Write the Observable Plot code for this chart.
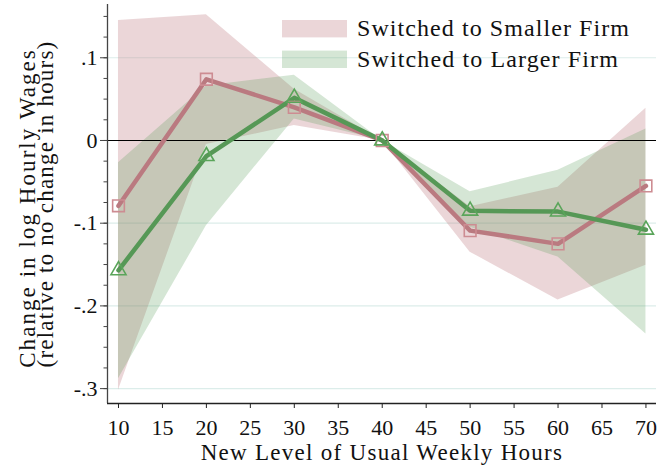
<!DOCTYPE html>
<html>
<head>
<meta charset="utf-8">
<script src="https://cdn.jsdelivr.net/npm/d3@7"></script>
<script src="https://cdn.jsdelivr.net/npm/@observablehq/plot@0.6"></script>
<style>
  html, body { margin: 0; padding: 0; background: #fff; }
  #wrap { position: relative; width: 658px; height: 465px; }
  #wrap svg.overlay { position: absolute; left: 0; top: 0; pointer-events: none; }
</style>
</head>
<body>
<div id="wrap"></div>
<script>
// ---- data ----
const hours = [10, 20, 30, 40, 50, 60, 70];
const smaller   = [-0.079, 0.074, 0.040, 0, -0.109, -0.125, -0.055];
const smallerLo = [-0.302, -0.005, 0.018, 0, -0.135, -0.193, -0.151];
const smallerHi = [0.145, 0.152, 0.062, 0, -0.080, -0.0565, 0.039];
const larger    = [-0.157, -0.019, 0.0515, 0, -0.085, -0.086, -0.108];
const largerLo  = [-0.288, -0.103, 0.026, 0, -0.105, -0.141, -0.234];
const largerHi  = [-0.027, 0.066, 0.079, 0, -0.062, -0.036, 0.014];

const seriesNames = ["Switched to Smaller Firm", "Switched to Larger Firm"];
const xTicks = [10, 15, 20, 25, 30, 35, 40, 45, 50, 55, 60, 65, 70];
const yTicks = [0.1, 0, -0.1, -0.2, -0.3];
const yTickLabels = [".1", "0", "-.1", "-.2", "-.3"];
const yMinorTicks = d3.range(-12, 7).map(k => k * 0.025);
const gridTicks = [0.1, -0.1, -0.2, -0.3];
const xDomain = [8.75, 71.2];
const yDomain = [-0.318, 0.1644];
const xLabel = "New Level of Usual Weekly Hours";
const yLabel1 = "Change in log Hourly Wages";
const yLabel2 = "(relative to no change in hours)";

// ---- styles ----
const pinkBase = "rgb(190,120,125)";
const greenBase = "rgb(80,150,80)";
const pinkLine = "rgb(186,122,128)";
const greenLine = "rgb(86,152,86)";
const pinkMark = "rgb(205,140,146)";
const greenMark = "rgb(90,165,90)";
const gridColor = "#dcedea";
const fontStack = "'Liberation Serif', serif";

// letter spacing so that a string at a given size spans a target width
const ctx = document.createElement("canvas").getContext("2d");
function spacingFor(str, size, target) {
  ctx.font = `${size}px ${fontStack}`;
  const w = ctx.measureText(str).width;
  return Math.max(0, (target - w) / str.length);
}

const rows = hours.map((h, i) => ({
  h, s: smaller[i], sLo: smallerLo[i], sHi: smallerHi[i],
  l: larger[i], lLo: largerLo[i], lHi: largerHi[i]
}));
const labelMap = new Map(yTicks.map((t, i) => [t, yTickLabels[i]]));

const chart = Plot.plot({
  width: 658,
  height: 465,
  marginLeft: 107,
  marginRight: 2,
  marginTop: 4,
  marginBottom: 62,
  style: { fontFamily: fontStack, background: "white", color: "#111", overflow: "visible" },
  x: { domain: xDomain, axis: null },
  y: { domain: yDomain, axis: null },
  marks: [
    Plot.ruleY(gridTicks, { stroke: gridColor, strokeWidth: 1.2 }),
    Plot.areaY(rows, { x: "h", y1: "sLo", y2: "sHi", fill: pinkBase, fillOpacity: 0.3 }),
    Plot.areaY(rows, { x: "h", y1: "lLo", y2: "lHi", fill: greenBase, fillOpacity: 0.24 }),
    Plot.ruleY([0], { stroke: "#000", strokeWidth: 1.2 }),
    Plot.ruleX([xDomain[0]], { stroke: "#444", strokeWidth: 1.3 }),
    Plot.ruleY([yDomain[0]], { stroke: "#222", strokeWidth: 1.3 }),
    Plot.axisY({ ticks: yMinorTicks, tickSize: 3.5, tickFormat: () => "", stroke: "#444", label: null }),
    Plot.axisY({ ticks: yTicks, tickSize: 7, tickPadding: 3, tickFormat: d => labelMap.get(d), fontSize: 22, stroke: "#444", label: null }),
    Plot.axisX({ ticks: xTicks, tickSize: 5, tickPadding: 11, fontSize: 22, stroke: "#222", label: null }),
    Plot.line(rows, { x: "h", y: "s", stroke: pinkLine, strokeWidth: 4.5 }),
    Plot.line(rows, { x: "h", y: "l", stroke: greenLine, strokeWidth: 4.5 }),
    Plot.dot(rows, { x: "h", y: "s", symbol: "square", r: 6.6, stroke: pinkMark, strokeWidth: 1.6, fill: "none" }),
    Plot.dot(rows, { x: "h", y: "l", symbol: "triangle", r: 5.6, stroke: greenMark, strokeWidth: 1.6, fill: "none" })
  ]
});

const wrap = document.getElementById("wrap");
wrap.appendChild(chart);

// titles and legend overlay
const ns = "http://www.w3.org/2000/svg";
const ov = document.createElementNS(ns, "svg");
ov.setAttribute("class", "overlay");
ov.setAttribute("width", 658);
ov.setAttribute("height", 465);

function addText(str, x, y, size, target, opts = {}) {
  const t = document.createElementNS(ns, "text");
  t.setAttribute("x", 0); t.setAttribute("y", 0);
  t.setAttribute("font-family", fontStack);
  t.setAttribute("font-size", size);
  t.setAttribute("fill", "#111");
  t.setAttribute("text-anchor", opts.anchor || "start");
  t.setAttribute("transform", `translate(${x},${y})` + (opts.rotate ? ` rotate(${opts.rotate})` : ""));
  t.style.letterSpacing = spacingFor(str, size, target) + "px";
  t.textContent = str;
  ov.appendChild(t);
}

// x-axis title (baseline 460, centred on plot)
addText(xLabel, 382, 460, 23, 363, { anchor: "middle" });
// y-axis title, two rotated lines
addText(yLabel1, 35, 208, 23, 320, { anchor: "middle", rotate: -90 });
addText(yLabel2, 53, 204, 23, 327, { anchor: "middle", rotate: -90 });

// legend (inside the plot, top right, no background)
const swatches = [
  { fill: pinkBase, opacity: 0.3 },
  { fill: greenBase, opacity: 0.24 }
];
seriesNames.forEach((name, i) => {
  const top = 20 + i * 30.6;
  const r = document.createElementNS(ns, "rect");
  r.setAttribute("x", 282); r.setAttribute("y", top);
  r.setAttribute("width", 65); r.setAttribute("height", 17.4);
  r.setAttribute("fill", swatches[i].fill);
  r.setAttribute("fill-opacity", swatches[i].opacity);
  ov.appendChild(r);
  addText(name, 357, top + 16, 24, i === 0 ? 273 : 262);
});
wrap.appendChild(ov);
</script>
</body>
</html>
